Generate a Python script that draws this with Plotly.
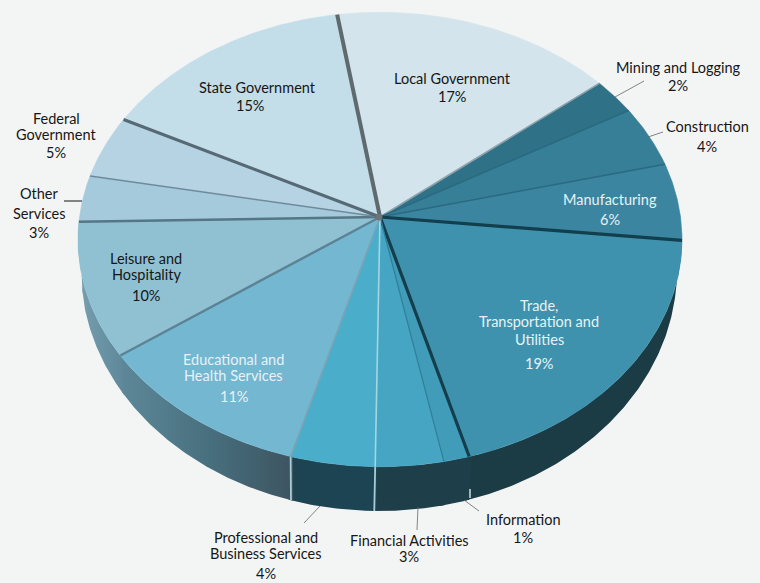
import math
import plotly.graph_objects as go

# ---- data ----
sectors = ["Local Government", "Mining and Logging", "Construction", "Manufacturing",
           "Trade, Transportation and Utilities", "Information", "Financial Activities",
           "Professional and Business Services", "Educational and Health Services",
           "Leisure and Hospitality", "Other Services", "Federal Government", "State Government"]
shares = [16.6, 2.6, 4.4, 5.5, 19.0, 1.25, 3.3, 4.1, 10.8, 9.5, 3.3, 4.5, 15.0]
percent_labels = ["17%", "2%", "4%", "6%", "19%", "1%", "3%", "4%", "11%", "10%", "3%", "5%", "15%"]

# ---- styles ----
top_colors = ["#D3E4EC", "#2F7187", "#367F96", "#3B85A0", "#3E92AD", "#409CB9", "#45A5C2",
              "#4AADC9", "#74B7D1", "#90C1D3", "#A4CADC", "#B5D3E3", "#C3DDE9"]
wall_scales = {
    4: ["#1B3B45", "#1B3B45"], 5: ["#1E3E4A", "#1E3E4A"], 6: ["#1E3E4A", "#1E3E4A"],
    7: ["#1E4452", "#1D4452"], 8: ["#5E8899", "#48707F", "#3D5460"], 9: ["#76A0B0", "#5E8899"],
}
# divider that closes each sector (clockwise end), (colour, width)
dividers = [("#8FA3AC", 1.5), ("#2A6A80", 1.5), ("#2A6A80", 1.5), ("#123E4E", 3.2), ("#153E4D", 3.2),
            ("#2F7E97", 1.2), ("#A5D5E3", 1.6), ("#7BA3B5", 1.6), ("#5C8294", 2.4), ("#557685", 2.4),
            ("#6E8B9B", 1.6), ("#566A75", 3), ("#5F6A6F", 4)]

BG = "#F3F5F5"
AX, AY = 380.0, 217.0          # hub of the pie on the page
R, S, T = 300.5, 225.0, 0.0989  # perspective of the top face
START = -9.0


def rim(deg):
    th = math.radians(deg)
    u, v = math.sin(th), math.cos(th)
    d = 1 + T * v
    return AX + R * u / d, AY - S * v / d


def wall_bottom(xt):
    bx = 379 + (xt - 380) * 0.985
    q = max(0.0, 1 - ((bx - 379) / 298.0) ** 2)
    return bx, 270 + 241 * math.sqrt(q)


def arc(a, b):
    n = max(2, int(abs(b - a) * 2))
    return [a + (b - a) * i / n for i in range(n + 1)]


edges = [START]
for s in shares:
    edges.append(edges[-1] + s / sum(shares) * 360)

fig = go.Figure()

# side wall (each piece runs a little under its neighbour so no seam shows)
for i, scale in wall_scales.items():
    pts = [rim(a) for a in arc(edges[i] - 0.4, edges[i + 1] + 0.4)]
    pts = [p for p in pts if wall_bottom(p[0])[1] > p[1]]
    bot = [wall_bottom(p[0]) for p in pts]
    xs = [p[0] for p in pts] + [p[0] for p in reversed(bot)]
    ys = [p[1] for p in pts] + [p[1] for p in reversed(bot)]
    stops = [[k / (len(scale) - 1), c] for k, c in enumerate(scale)]
    fig.add_trace(go.Scatter(
        x=xs + xs[:1], y=ys + ys[:1], mode="lines", line=dict(width=0), fill="toself",
        fillgradient=dict(type="horizontal", colorscale=stops),
        hoverinfo="skip", showlegend=False))

# light seams on the wall
for i in (6, 7):
    x0, y0 = rim(edges[i + 1])
    x1, y1 = wall_bottom(x0)
    fig.add_trace(go.Scatter(x=[x0, x1], y=[y0, y1], mode="lines",
                             line=dict(color="#A9CBD6", width=1.8),
                             hoverinfo="skip", showlegend=False))

# top face
for i, name in enumerate(sectors):
    pts = [rim(a) for a in arc(edges[i], edges[i + 1])]
    xs = [AX] + [p[0] for p in pts] + [AX]
    ys = [AY] + [p[1] for p in pts] + [AY]
    fig.add_trace(go.Scatter(x=xs, y=ys, mode="lines", line=dict(width=0.6, color=top_colors[i]),
                             fill="toself", fillcolor=top_colors[i], name=name,
                             text=f"{name}: {percent_labels[i]}", hoverinfo="text", showlegend=False))

# dividers
for i, (col, w) in enumerate(dividers):
    x1, y1 = rim(edges[i + 1])
    fig.add_trace(go.Scatter(x=[AX, x1], y=[AY, y1], mode="lines", line=dict(color=col, width=w),
                             hoverinfo="skip", showlegend=False))

# small grey hub where the dividers meet
fig.add_trace(go.Scatter(x=[AX - 1], y=[AY], mode="markers", marker=dict(color="#6B7479", size=7),
                         hoverinfo="skip", showlegend=False))

# text, one entry per printed line: (text, x, y, colour)
DARK, PALE = "#161616", "#E6F2F6"
text_lines = [
    ("Local Government", 452, 78, DARK), ("17%", 452, 96, DARK),
    ("State Government", 257, 87, DARK), ("15%", 250, 105, DARK),
    ("Mining and Logging", 678, 67, DARK), ("2%", 678, 85, DARK),
    ("Construction", 707, 126, DARK), ("4%", 707, 146, DARK),
    ("Manufacturing", 610, 199, PALE), ("6%", 610, 219, PALE),
    ("Trade,", 539, 305, PALE), ("Transportation and", 539, 321, PALE),
    ("Utilities", 539, 339, PALE), ("19%", 539, 363, PALE),
    ("Information", 523, 519, DARK), ("1%", 523, 537, DARK),
    ("Financial Activities", 409, 540, DARK), ("3%", 409, 556, DARK),
    ("Professional and", 266, 537, DARK), ("Business Services", 266, 553, DARK), ("4%", 266, 573, DARK),
    ("Educational and", 233, 359, PALE), ("Health Services", 233, 375, PALE), ("11%", 234, 396, PALE),
    ("Leisure and", 146, 258, DARK), ("Hospitality", 146, 274, DARK), ("10%", 146, 295, DARK),
    ("Other", 39, 193, DARK), ("Services", 39, 213, DARK), ("3%", 39, 232, DARK),
    ("Federal", 56, 118, DARK), ("Government", 56, 134.5, DARK), ("5%", 56, 152, DARK),
]
annotations = [dict(text=t, x=x, y=y, xref="x", yref="y", showarrow=False, xanchor="center",
                    yanchor="middle", font=dict(family="Lato", size=14.5, color=c))
               for t, x, y, c in text_lines]

leaders = [(615, 97, 644, 81, "#666666", 0.8), (648, 137, 663, 132, "#666666", 0.8),
           (464, 500, 479, 511, "#666666", 0.8), (418, 507, 417, 530, "#666666", 0.8),
           (320, 506, 304, 523, "#666666", 0.8), (64, 201, 82, 201, "#111111", 1),
           (470, 489, 470, 498, "#DCE8EC", 1.4)]
shapes = [dict(type="line", x0=a, y0=b, x1=c, y1=d, xref="x", yref="y", line=dict(color=col, width=w))
          for a, b, c, d, col, w in leaders]

fig.update_layout(
    width=760, height=583, margin=dict(l=0, r=0, t=0, b=0),
    paper_bgcolor=BG, plot_bgcolor=BG, showlegend=False,
    xaxis=dict(range=[0, 760], visible=False, fixedrange=True),
    yaxis=dict(range=[583, 0], visible=False, fixedrange=True),
    annotations=annotations, shapes=shapes,
)
fig.write_html("out.html", post_script="document.body.style.margin='0';document.body.style.overflow='hidden';",
               config=dict(displayModeBar=False))
